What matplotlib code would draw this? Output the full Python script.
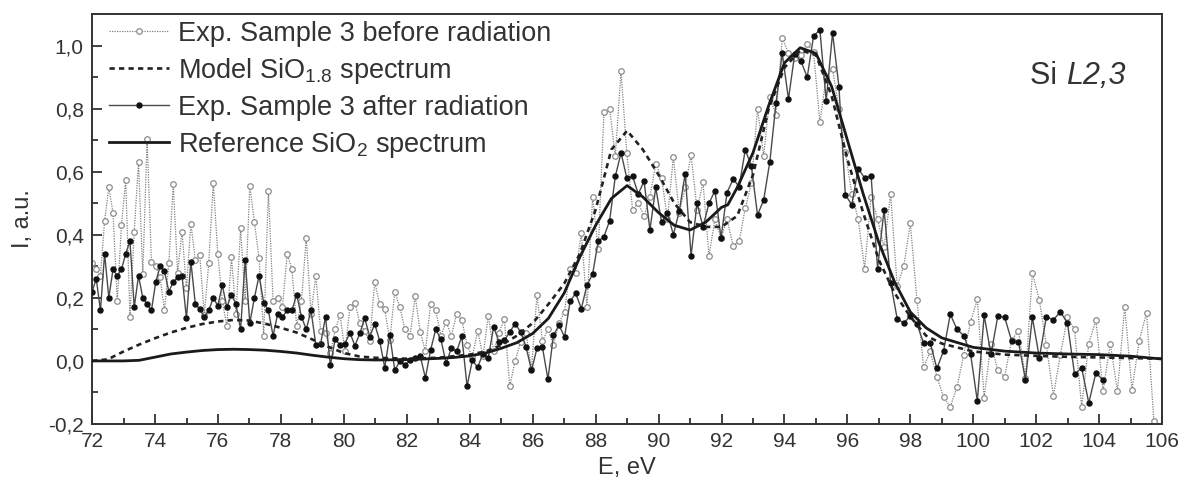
import numpy as np
import matplotlib
matplotlib.use("Agg")
import matplotlib.pyplot as plt
from matplotlib.ticker import MultipleLocator, FuncFormatter

plt.rcParams["font.family"] = ["Liberation Sans", "DejaVu Sans"]
plt.rcParams["mathtext.fontset"] = "custom"
plt.rcParams["mathtext.rm"] = "Liberation Sans"
plt.rcParams["axes.unicode_minus"] = False

# spectrometer step grows with photon energy: 0.132 eV at 72 eV, ~0.23 eV at 106 eV
energy = 28 + 44 * 1.003 ** np.arange(191)

# Exp. Sample 3 before radiation (one value per channel)
before = [
    0.31, 0.29, 0.27, 0.445, 0.55, 0.47, 0.19, 0.43, 0.575, 0.14,
    0.41, 0.63, 0.275, 0.705, 0.315, 0.30, 0.265, 0.16, 0.31, 0.56,
    0.28, 0.41, 0.23, 0.435, 0.32, 0.335, 0.145, 0.31, 0.565, 0.34,
    0.19, 0.11, 0.33, 0.15, 0.42, 0.19, 0.555, 0.44, 0.325, 0.08,
    0.54, 0.19, 0.20, 0.17, 0.34, 0.29, 0.11, 0.19, 0.39, 0.15,
    0.27, 0.095, 0.09, 0.025, 0.10, 0.145, 0.03, 0.17, 0.185, 0.12,
    0.094, 0.063, 0.25, 0.18, 0.165, 0.066, 0.22, 0.17, 0.10, 0.08,
    0.205, 0.092, 0.03, 0.18, 0.16, 0.08, 0.124, 0.08, 0.148, 0.13,
    0.05, 0.013, 0.095, 0.015, 0.143, 0.03, 0.09, 0.132, -0.08, 0.0,
    0.06, 0.09, -0.027, 0.21, 0.063, 0.10, 0.052, 0.12, 0.156, 0.293,
    0.28, 0.405, 0.17, 0.52, 0.354, 0.788, 0.80, 0.65, 0.918, 0.66,
    0.48, 0.50, 0.46, 0.52, 0.625, 0.58, 0.45, 0.646, 0.47, 0.55,
    0.654, 0.48, 0.566, 0.333, 0.45, 0.39, 0.45, 0.365, 0.38, 0.484,
    0.563, 0.80, 0.65, 0.837, 0.78, 1.024, 0.977, 0.96, 0.97, 1.006,
    0.98, 0.756, 0.90, 0.926, 0.80, 0.664, 0.53, 0.45, 0.293, 0.52,
    0.45, 0.36, 0.53, 0.237, 0.30, 0.436, 0.193, -0.02, 0.03, -0.05,
    -0.115, -0.146, -0.083, 0.02, 0.124, 0.195, -0.117, 0.055, -0.03, -0.05,
    0.066, 0.095, -0.053, 0.278, 0.193, 0.05, -0.11, 0.02, 0.138, 0.10,
    -0.146, 0.055, 0.13, -0.095, 0.055, -0.095, 0.172, -0.091, 0.064, 0.153,
    -0.189,
]

# Exp. Sample 3 after radiation (same channels, stops near 104 eV)
after = [
    0.22, 0.26, 0.16, 0.34, 0.20, 0.29, 0.27, 0.29, 0.34, 0.38,
    0.17, 0.27, 0.20, 0.18, 0.16, 0.25, 0.30, 0.285, 0.22, 0.25,
    0.265, 0.27, 0.135, 0.315, 0.18, 0.165, 0.14, 0.16, 0.20, 0.175,
    0.24, 0.17, 0.21, 0.18, 0.10, 0.32, 0.12, 0.20, 0.27, 0.185,
    0.16, 0.08, 0.15, 0.14, 0.16, 0.16, 0.21, 0.14, 0.10, 0.16,
    0.05, 0.055, 0.14, -0.014, 0.07, 0.05, 0.055, 0.09, 0.048, 0.087,
    0.135, 0.077, 0.117, 0.063, -0.021, 0.082, -0.03, 0.0, -0.014, 0.004,
    0.01, 0.015, -0.054, 0.034, 0.10, 0.068, -0.008, 0.04, 0.03, 0.078,
    -0.08, 0.002, -0.02, 0.023, 0.01, 0.108, 0.06, 0.065, 0.092, 0.118,
    0.092, 0.045, -0.03, 0.04, 0.043, -0.058, 0.082, 0.113, 0.076, 0.19,
    0.214, 0.166, 0.24, 0.275, 0.38, 0.394, 0.444, 0.585, 0.66, 0.58,
    0.585, 0.53, 0.57, 0.415, 0.55, 0.44, 0.47, 0.40, 0.474, 0.593,
    0.333, 0.50, 0.425, 0.50, 0.54, 0.39, 0.534, 0.576, 0.553, 0.67,
    0.617, 0.463, 0.51, 0.632, 0.818, 0.975, 0.83, 0.973, 0.95, 0.90,
    1.03, 1.05, 0.825, 1.04, 0.87, 0.527, 0.495, 0.61, 0.58, 0.587,
    0.293, 0.48, 0.248, 0.134, 0.12, 0.142, 0.117, 0.057, 0.057, -0.024,
    0.032, 0.148, 0.10, 0.08, 0.023, -0.127, 0.145, 0.021, 0.142, 0.138,
    0.064, 0.06, -0.06, 0.138, 0.01, 0.14, 0.13, 0.156, 0.12, -0.042,
    -0.022, -0.133, -0.038, -0.061,
]

# Model SiO1.8 spectrum
model_e = [72, 72.5, 73, 73.5, 74, 74.5, 75, 75.5, 76, 76.5, 77, 77.5, 78, 78.5,
           79, 79.5, 80, 80.5, 81, 82, 83, 84, 84.5, 85, 85.5, 86, 86.5, 87,
           87.5, 88, 88.5, 89, 89.5, 90, 90.5, 91, 91.5, 92, 92.5, 93, 93.5,
           94, 94.5, 95, 95.5, 96, 96.5, 97, 97.5, 98, 98.5, 99, 100, 101,
           102, 103, 104, 105, 106]
model_i = [0.0, 0.005, 0.03, 0.052, 0.072, 0.09, 0.105, 0.117, 0.125, 0.13, 0.128,
           0.118, 0.105, 0.09, 0.068, 0.045, 0.025, 0.014, 0.01, 0.007, 0.01, 0.02,
           0.03, 0.05, 0.08, 0.12, 0.18, 0.245, 0.34, 0.48, 0.67, 0.73, 0.67, 0.59,
           0.50, 0.44, 0.425, 0.425, 0.46, 0.59, 0.80, 0.93, 0.985, 0.97, 0.84,
           0.64, 0.47, 0.32, 0.215, 0.14, 0.08, 0.055, 0.03, 0.02, 0.016, 0.013,
           0.011, 0.009, 0.007]

# Reference SiO2 spectrum
ref_e = [72, 73, 73.5, 74, 74.5, 75, 75.5, 76, 76.5, 77, 77.5, 78, 78.5, 79, 79.5,
         80, 80.5, 81, 82, 83, 83.5, 84, 84.5, 85, 85.5, 86, 86.5, 87, 87.5, 88,
         88.5, 89, 89.5, 90, 90.5, 91, 91.5, 92, 92.2, 92.5, 93, 93.5, 94, 94.5,
         95, 95.5, 96, 96.5, 97, 97.5, 98, 98.5, 99, 100, 101, 102, 103, 104,
         105, 106]
ref_i = [0.0, 0.0, 0.002, 0.012, 0.022, 0.028, 0.033, 0.036, 0.037, 0.036, 0.034,
         0.03, 0.025, 0.018, 0.012, 0.007, 0.004, 0.003, 0.004, 0.008, 0.011,
         0.016, 0.025, 0.04, 0.058, 0.087, 0.135, 0.215, 0.33, 0.43, 0.515, 0.556,
         0.52, 0.47, 0.43, 0.415, 0.44, 0.487, 0.495, 0.55, 0.66, 0.81, 0.945,
         0.993, 0.975, 0.87, 0.70, 0.53, 0.375, 0.25, 0.155, 0.105, 0.073, 0.043,
         0.031, 0.025, 0.022, 0.02, 0.015, 0.006]

fig = plt.figure(figsize=(11.81, 5.0), dpi=100)
ax = fig.add_axes([0.078, 0.152, 0.906, 0.82])

ax.plot(energy[:len(before)], before, linestyle=(0, (1, 1)), color="#808080", lw=0.9,
        marker="o", ms=4, mfc="white", mec="#8c8c8c", mew=0.9,
        label="Exp. Sample 3 before radiation", zorder=2)
ax.plot(model_e, model_i, linestyle=(0, (2, 1.6)), color="#222222", lw=1.9,
        label="Model SiO$_\\mathregular{1.8}$ spectrum", zorder=4)
ax.plot(energy[:len(after)], after, "-", color="#4a4a4a", lw=1.0,
        marker="o", ms=3.6, mfc="#111111", mec="#111111",
        label="Exp. Sample 3 after radiation", zorder=3)
ax.plot(ref_e, ref_i, "-", color="#1a1a1a", lw=2.0,
        label="Reference SiO$_\\mathregular{2}$ spectrum", zorder=5)

ax.set_xlim(72, 106)
ax.set_ylim(-0.2, 1.1)
ax.xaxis.set_major_locator(MultipleLocator(2))
ax.xaxis.set_minor_locator(MultipleLocator(1))
ax.yaxis.set_major_locator(MultipleLocator(0.2))
ax.yaxis.set_minor_locator(MultipleLocator(0.1))
ax.yaxis.set_major_formatter(FuncFormatter(lambda v, p: f"{v:.1f}".replace(".", ",")))
ax.tick_params(which="both", direction="in", width=1.3, labelsize=15, color="#333333")
ax.tick_params(which="major", length=7, pad=6)
ax.tick_params(which="minor", length=4)
for s in ax.spines.values():
    s.set_linewidth(1.4)
    s.set_color("#333333")

ax.set_xlabel("E, eV", fontsize=17, color="#333333", labelpad=4)
ax.set_ylabel("I, a.u.", fontsize=17, color="#333333", labelpad=10)
for lbl in ax.get_xticklabels() + ax.get_yticklabels():
    lbl.set_color("#333333")

t = ax.text(0.877, 0.83, "Si ", transform=ax.transAxes, fontsize=22, color="#333333",
            ha="left", va="baseline")
ax.annotate("L2,3", xy=(1, 0), xycoords=t, fontsize=22, style="italic",
            color="#333333", ha="left", va="bottom")

leg = ax.legend(loc="upper left", bbox_to_anchor=(0.006, 1.01), frameon=False,
                fontsize=19.5, handlelength=2.2, handletextpad=0.35,
                labelspacing=0.33, borderaxespad=0.0)
for txt in leg.get_texts():
    txt.set_color("#333333")

fig.savefig("out.png", dpi=100)
